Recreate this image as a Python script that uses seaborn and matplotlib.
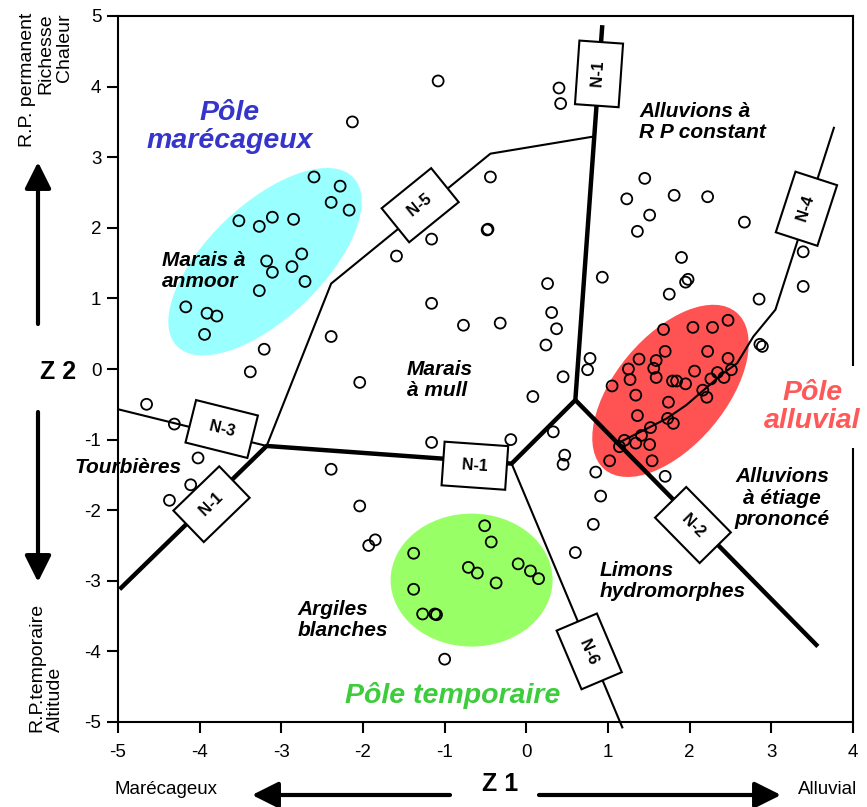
import matplotlib
matplotlib.use("Agg")
import matplotlib.pyplot as plt
import matplotlib.transforms as mtransforms
from matplotlib.patches import Ellipse
import pandas as pd
import seaborn as sns

# relevés dans le plan Z1 / Z2
anmoor_z1 = [-2.60, -2.28, -2.39, -2.17, -3.52, -3.27, -3.11, -2.85, -2.75, -3.18,
             -3.11, -2.87, -2.71, -3.27, -4.17, -3.91, -3.79, -3.94]
anmoor_z2 = [2.72, 2.59, 2.36, 2.25, 2.10, 2.02, 2.15, 2.12, 1.63, 1.53,
             1.37, 1.45, 1.24, 1.11, 0.88, 0.79, 0.75, 0.49]

alluvial_z1 = [1.68, 2.04, 2.28, 2.47, 1.70, 2.22, 1.38, 1.59, 1.25, 1.56,
               1.27, 1.59, 1.79, 1.84, 1.95, 2.06, 2.47, 2.51, 2.42, 2.34,
               2.26, 2.16, 2.21, 1.05, 1.34, 1.74, 1.36, 1.73, 1.80, 1.52,
               1.41, 1.34, 1.51, 1.20, 1.14, 1.02, 1.54]
alluvial_z2 = [0.56, 0.59, 0.59, 0.69, 0.25, 0.25, 0.14, 0.12, 0.00, 0.01,
               -0.15, -0.12, -0.17, -0.17, -0.21, -0.03, 0.15, -0.01, -0.12, -0.05,
               -0.14, -0.30, -0.40, -0.24, -0.37, -0.47, -0.66, -0.70, -0.77, -0.83,
               -0.94, -1.05, -1.07, -1.01, -1.10, -1.30, -1.30]

temporaire_z1 = [-0.51, -0.43, -1.38, -0.71, -0.60, -0.37, -0.10, 0.05, 0.15, -1.38,
                 -1.27, -1.12, -1.10]
temporaire_z2 = [-2.22, -2.45, -2.61, -2.81, -2.89, -3.03, -2.76, -2.86, -2.97, -3.12,
                 -3.47, -3.47, -3.48]

autres_z1 = [-1.08, -2.13, 0.40, 0.42, -0.44, -0.48, -0.47, -1.16, -1.59, -1.16,
             -2.39, -3.21, -3.38, 1.45, 1.23, 1.81, 2.22, 1.51, 1.36, 2.67,
             1.90, 1.98, 1.95, 1.75, 0.93, 0.26, 0.31, 0.37, 0.24, -0.77,
             -0.32, 3.39, 3.39, 2.85, 2.86, 2.89, 0.78, 0.75, 0.45, 0.08,
             0.33, -0.19, 0.47, 0.45, 0.85, 0.91, 0.82, 0.60, 1.70, -1.00,
             -4.65, -4.31, -4.02, -4.11, -4.37, -2.04, -1.16, -2.39, -2.04, -1.93,
             -1.85]
autres_z2 = [4.08, 3.50, 3.98, 3.76, 2.72, 1.97, 1.98, 1.84, 1.60, 0.93,
             0.46, 0.28, -0.04, 2.70, 2.41, 2.46, 2.44, 2.18, 1.95, 2.08,
             1.58, 1.27, 1.23, 1.06, 1.30, 1.21, 0.80, 0.57, 0.34, 0.62,
             0.65, 1.66, 1.17, 0.99, 0.35, 0.32, 0.15, -0.01, -0.11, -0.39,
             -0.89, -1.00, -1.22, -1.35, -1.46, -1.80, -2.20, -2.60, -1.52, -4.11,
             -0.50, -0.78, -1.26, -1.64, -1.86, -0.19, -1.04, -1.42, -1.94, -2.50,
             -2.42]

# frontières (sommets)
n1_z1 = [-4.98, -3.18, -0.18, 0.60, 0.93]
n1_z2 = [-3.12, -1.09, -1.34, -0.44, 4.87]
n2_z1 = [0.60, 3.57]
n2_z2 = [-0.44, -3.93]
n3_z1 = [-5.0, -3.18]
n3_z2 = [-0.57, -1.09]
n5_z1 = [-3.18, -2.39, -0.44, 0.81]
n5_z2 = [-1.09, 1.21, 3.05, 3.29]
n6_z1 = [-0.18, 1.18]
n6_z2 = [-1.34, -5.09]
n4_z1 = [1.12, 1.19, 1.45, 1.72, 1.96, 2.17, 2.41, 2.58, 2.78, 3.05, 3.77]
n4_z2 = [-1.05, -1.01, -0.86, -0.70, -0.51, -0.30, -0.06, 0.08, 0.46, 0.84, 3.43]

x_ticks = list(range(-5, 5))
y_ticks = list(range(-5, 6))

sns.set_style("ticks")
plt.rcParams['font.family'] = ['Liberation Sans', 'DejaVu Sans']
plt.rcParams['axes.unicode_minus'] = False
plt.rcParams['text.color'] = 'black'

W, H = 867, 807
fig = plt.figure(figsize=(W / 100, H / 100), dpi=100)
ax = fig.add_axes([118 / W, 1 - 722 / H, (853 - 118) / W, (722 - 16) / H])
ax.set_xlim(-5, 4)
ax.set_ylim(-5, 5)


def pole(cx, cy, w, h, ang, col):
    tr = fig.dpi_scale_trans + mtransforms.ScaledTranslation(cx, cy, ax.transData)
    ax.add_patch(Ellipse((0, 0), w / 100, h / 100, angle=ang, transform=tr,
                         fc=col, ec='none', zorder=1))


pole(-3.20, 1.52, 244, 114, 43.6, '#99FFFF')
pole(1.765, -0.31, 205, 110, 50, '#FF5252')
pole(-0.67, -2.99, 162, 133, 0, '#99FF66')

for xs, ys, lw in [(n1_z1, n1_z2, 3.2), (n2_z1, n2_z2, 3.2),
                   (n3_z1, n3_z2, 1.5), (n5_z1, n5_z2, 1.5),
                   (n6_z1, n6_z2, 1.5), (n4_z1, n4_z2, 1.5)]:
    ax.plot(xs, ys, color='black', lw=lw, zorder=2, clip_on=False,
            solid_capstyle='butt')

df = pd.concat([
    pd.DataFrame({'z1': anmoor_z1, 'z2': anmoor_z2}),
    pd.DataFrame({'z1': alluvial_z1, 'z2': alluvial_z2}),
    pd.DataFrame({'z1': temporaire_z1, 'z2': temporaire_z2}),
    pd.DataFrame({'z1': autres_z1, 'z2': autres_z2}),
])
sns.scatterplot(data=df, x='z1', y='z2', ax=ax, marker='o', s=62,
                facecolor='none', edgecolor='black', linewidth=1.3,
                zorder=3, legend=False)


def frontier_label(x, y, txt, rot):
    ax.text(x, y, " " + txt + " ", rotation=rot, rotation_mode='anchor',
            ha='center', va='center', fontsize=11.5, fontweight='bold',
            bbox=dict(boxstyle='square,pad=0.9', fc='white', ec='black', lw=1.5),
            zorder=5)


frontier_label(0.89, 4.18, "N-1", 86)
frontier_label(-1.30, 2.32, "N-5", 39)
frontier_label(-3.73, -0.85, "N-3", -14)
frontier_label(-3.855, -1.915, "N-1", 44)
frontier_label(-0.63, -1.37, "N-1", -4)
frontier_label(2.04, -2.21, "N-2", -45.5)
frontier_label(0.77, -4.00, "N-6", -67)
frontier_label(3.43, 2.27, "N-4", 72)

lab = dict(fontsize=15, fontweight='bold', fontstyle='italic', zorder=6,
           linespacing=1.15, color='black')
ax.text(-4.46, 1.39, "Marais à\nanmoor", ha='left', va='center', **lab)
ax.text(1.38, 3.50, "Alluvions à\nR P constant", ha='left', va='center', **lab)
ax.text(-1.46, -0.16, "Marais\nà mull", ha='left', va='center', **lab)
ax.text(-5.53, -1.40, "Tourbières", ha='left', va='center', clip_on=False, **lab)
ax.text(-2.80, -3.56, "Argiles\nblanches", ha='left', va='center', **lab)
ax.text(0.90, -3.00, "Limons\nhydromorphes", ha='left', va='center', **lab)
ax.text(3.13, -1.83, "Alluvions\nà étiage\nprononcé", ha='center', va='center',
        multialignment='center', **lab)

big = dict(fontsize=20.5, fontweight='bold', fontstyle='italic', zorder=6,
           ha='center', va='center', multialignment='center', linespacing=1.1)
ax.text(-3.63, 3.43, "Pôle\nmarécageux", color='#3535CC', **big)
ax.text(3.50, -0.54, "Pôle\nalluvial", color='#FF5858', clip_on=False,
        bbox=dict(boxstyle='square,pad=0.5', fc='white', ec='none'), **big)
ax.text(-0.90, -4.62, "Pôle temporaire", color='#3CCC3C', **big)

ax.set_xticks(x_ticks)
ax.set_yticks(y_ticks)
ax.tick_params(direction='out', length=8, width=1.5, labelsize=13.5,
               colors='black')
ax.tick_params(axis='x', pad=8)
ax.tick_params(axis='y', pad=4)
for s in ax.spines.values():
    s.set_visible(True)
    s.set_color('black')
    s.set_linewidth(1.5)
ax.set_xlabel("")
ax.set_ylabel("")


def fp(x, y):
    return (x, H - y)


arr = dict(arrowstyle='-|>,head_length=1.6,head_width=0.8', lw=3, color='black',
           shrinkA=0, shrinkB=0, mutation_scale=10)
ax.annotate('', xy=fp(38, 162), xytext=fp(38, 324), xycoords='figure pixels',
            textcoords='figure pixels', arrowprops=arr)
ax.annotate('', xy=fp(38, 582), xytext=fp(38, 412), xycoords='figure pixels',
            textcoords='figure pixels', arrowprops=arr)
ax.annotate('', xy=fp(252, 795), xytext=fp(450, 795), xycoords='figure pixels',
            textcoords='figure pixels', arrowprops=arr)
ax.annotate('', xy=fp(781, 795), xytext=fp(539, 795), xycoords='figure pixels',
            textcoords='figure pixels', arrowprops=arr)

fig.text(58 / W, 1 - 372 / H, "Z 2", fontsize=18, fontweight='bold',
         ha='center', va='center')
fig.text(500 / W, 1 - 784 / H, "Z 1", fontsize=18, fontweight='bold',
         ha='center', va='center')
fig.text(166 / W, 1 - 790 / H, "Marécageux", fontsize=13.5, ha='center', va='center')
fig.text(828 / W, 1 - 789 / H, "Alluvial", fontsize=13.5, ha='center', va='center')
fig.text(46 / W, 1 - 13 / H, "R.P. permanent\nRichesse\nChaleur", fontsize=14,
         rotation=90, ha='center', va='top', multialignment='right',
         linespacing=1.15)
fig.text(46 / W, 1 - 732 / H, "R.P.temporaire\nAltitude", fontsize=14,
         rotation=90, ha='center', va='bottom', multialignment='left',
         linespacing=1.15)

fig.savefig("out.png", dpi=100)
